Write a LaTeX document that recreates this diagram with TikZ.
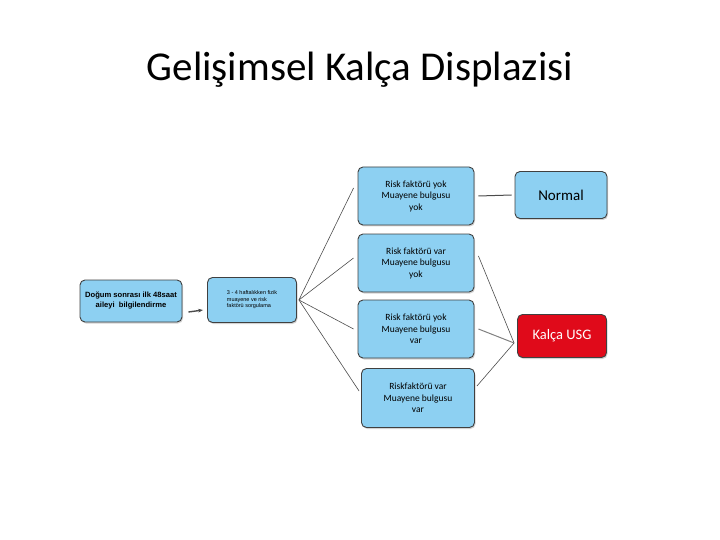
\documentclass[tikz,border=0pt]{standalone}
\usepackage{fontspec}
\setmainfont{Carlito}
\newfontfamily\boxfont{Liberation Sans}
\usetikzlibrary{arrows.meta,shadows}
\begin{document}
\begin{tikzpicture}[x=1pt,y=-1pt,
 bx/.style={draw=black!75,line width=0.9pt,fill=blueA,rounded corners=5pt,align=center,inner sep=1pt,drop shadow={shadow xshift=1pt,shadow yshift=-1.5pt,opacity=0.35},font=\fontsize{9.5}{11.5}\selectfont},
 ln/.style={draw=black!70,line width=0.6pt}]
\definecolor{blueA}{HTML}{8DD0F2}
\definecolor{redA}{HTML}{E00A1A}
\useasboundingbox (0,0) rectangle (720,540);
\node (t) at (360,70) {\fontsize{41}{48}\selectfont Gelişimsel Kalça Displazisi};
\node[bx,minimum width=102pt,minimum height=42pt,font=\boxfont\fontsize{7.6}{10}\selectfont\bfseries] (a) at (131,301) {Doğum sonrası ilk 48saat\\aileyi\ \ bilgilendirme};
\node[bx,minimum width=89pt,minimum height=45pt,align=left,font=\boxfont\fontsize{5.5}{6.5}\selectfont] (b) at (252,300) {3 - 4 haftalıkken fizik\\muayene ve risk\\faktörü sorgulama};
\node[bx,minimum width=116pt,minimum height=58pt] (r1) at (416,196) {Risk faktörü yok\\Muayene bulgusu\\yok};
\node[bx,minimum width=116pt,minimum height=58pt] (r2) at (416,263) {Risk faktörü var\\Muayene bulgusu\\yok};
\node[bx,minimum width=116pt,minimum height=58pt] (r3) at (416,329) {Risk faktörü yok\\Muayene bulgusu\\var};
\node[bx,minimum width=113pt,minimum height=59pt] (r4) at (418,398) {Riskfaktörü var\\Muayene bulgusu\\var};
\node[bx,minimum width=92pt,minimum height=47pt,font=\fontsize{15}{17}\selectfont] (n) at (561,195) {Normal};
\node[bx,fill=redA,text=white,minimum width=89pt,minimum height=43pt,font=\fontsize{14.5}{17}\selectfont] (u) at (562,336) {Kalça USG};
\coordinate (a1) at ([xshift=6pt,yshift=-11pt]a.east);
\coordinate (b1) at ([xshift=-4pt,yshift=-10pt]b.west);
\draw[ln,line width=1.4pt,-{Stealth[length=5pt]}] (a1) -- (b1);
\coordinate (bo) at ([xshift=2pt]b.east);
\draw[ln] (bo) -- ([xshift=-4pt,yshift=8pt]r1.west);
\draw[ln] (bo) -- ([xshift=-4pt,yshift=5pt]r2.west);
\draw[ln] (bo) -- ([xshift=-4pt]r3.west);
\draw[ln] (bo) -- ([xshift=-2pt,yshift=7pt]r4.west);
\draw[ln,line width=1pt] ([xshift=4pt]r1.east) -- ([xshift=-3pt]n.west);
\coordinate (ui) at ([xshift=-3pt,yshift=-7pt]u.west);
\draw[ln] ([xshift=4pt,yshift=7pt]r2.east) -- (ui);
\draw[ln,draw=black!50,line width=1pt] ([xshift=4pt]r3.east) -- (ui);
\draw[ln] ([xshift=2pt,yshift=12pt]r4.east) -- (ui);
\end{tikzpicture}
\end{document}
